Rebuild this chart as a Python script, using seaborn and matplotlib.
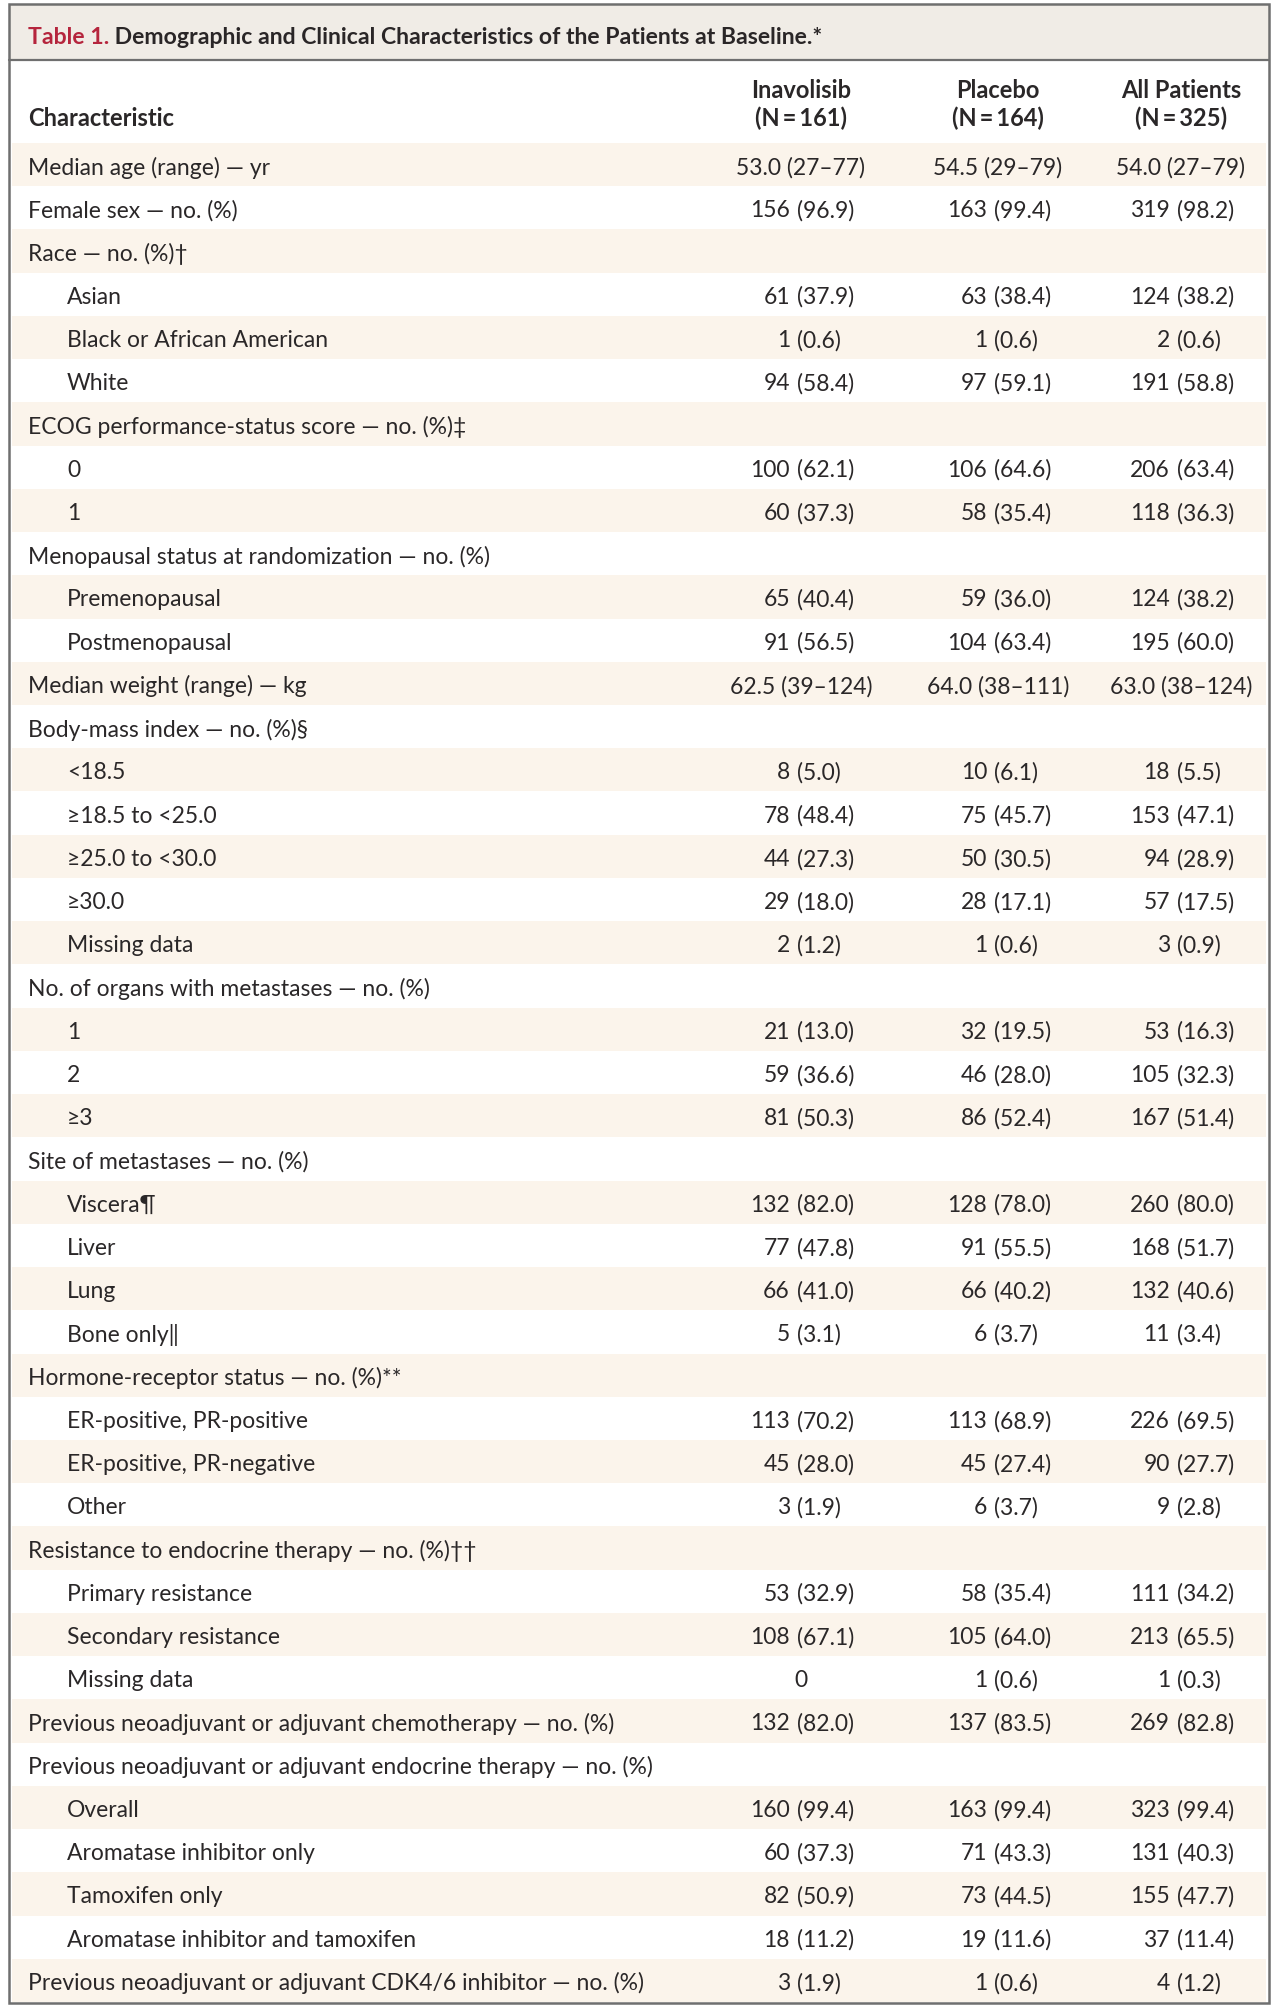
import numpy as np
import pandas as pd
import matplotlib
matplotlib.use("Agg")
import matplotlib.pyplot as plt
from matplotlib.patches import Rectangle
import seaborn as sns

# table content
characteristics = [
    "Median age (range) — yr", "Female sex — no. (%)", "Race — no. (%)†",
    "Asian", "Black or African American", "White",
    "ECOG performance-status score — no. (%)‡", "0", "1",
    "Menopausal status at randomization — no. (%)", "Premenopausal", "Postmenopausal",
    "Median weight (range) — kg", "Body-mass index — no. (%)§",
    "<18.5", "≥18.5 to <25.0", "≥25.0 to <30.0", "≥30.0", "Missing data",
    "No. of organs with metastases — no. (%)", "1", "2", "≥3",
    "Site of metastases — no. (%)", "Viscera¶", "Liver", "Lung", "Bone only‖",
    "Hormone-receptor status — no. (%)**", "ER-positive, PR-positive",
    "ER-positive, PR-negative", "Other",
    "Resistance to endocrine therapy — no. (%)††", "Primary resistance",
    "Secondary resistance", "Missing data",
    "Previous neoadjuvant or adjuvant chemotherapy — no. (%)",
    "Previous neoadjuvant or adjuvant endocrine therapy — no. (%)",
    "Overall", "Aromatase inhibitor only", "Tamoxifen only",
    "Aromatase inhibitor and tamoxifen",
    "Previous neoadjuvant or adjuvant CDK4/6 inhibitor — no. (%)",
]
indent = [0, 0, 0, 1, 1, 1, 0, 1, 1, 0, 1, 1, 0, 0, 1, 1, 1, 1, 1, 0, 1, 1, 1,
          0, 1, 1, 1, 1, 0, 1, 1, 1, 0, 1, 1, 1, 0, 0, 1, 1, 1, 1, 0]
inavolisib = [
    "53.0 (27–77)", "156 (96.9)", "", "61 (37.9)", "1 (0.6)", "94 (58.4)",
    "", "100 (62.1)", "60 (37.3)", "", "65 (40.4)", "91 (56.5)",
    "62.5 (39–124)", "", "8 (5.0)", "78 (48.4)", "44 (27.3)", "29 (18.0)", "2 (1.2)",
    "", "21 (13.0)", "59 (36.6)", "81 (50.3)",
    "", "132 (82.0)", "77 (47.8)", "66 (41.0)", "5 (3.1)",
    "", "113 (70.2)", "45 (28.0)", "3 (1.9)",
    "", "53 (32.9)", "108 (67.1)", "0",
    "132 (82.0)", "", "160 (99.4)", "60 (37.3)", "82 (50.9)", "18 (11.2)", "3 (1.9)",
]
placebo = [
    "54.5 (29–79)", "163 (99.4)", "", "63 (38.4)", "1 (0.6)", "97 (59.1)",
    "", "106 (64.6)", "58 (35.4)", "", "59 (36.0)", "104 (63.4)",
    "64.0 (38–111)", "", "10 (6.1)", "75 (45.7)", "50 (30.5)", "28 (17.1)", "1 (0.6)",
    "", "32 (19.5)", "46 (28.0)", "86 (52.4)",
    "", "128 (78.0)", "91 (55.5)", "66 (40.2)", "6 (3.7)",
    "", "113 (68.9)", "45 (27.4)", "6 (3.7)",
    "", "58 (35.4)", "105 (64.0)", "1 (0.6)",
    "137 (83.5)", "", "163 (99.4)", "71 (43.3)", "73 (44.5)", "19 (11.6)", "1 (0.6)",
]
all_patients = [
    "54.0 (27–79)", "319 (98.2)", "", "124 (38.2)", "2 (0.6)", "191 (58.8)",
    "", "206 (63.4)", "118 (36.3)", "", "124 (38.2)", "195 (60.0)",
    "63.0 (38–124)", "", "18 (5.5)", "153 (47.1)", "94 (28.9)", "57 (17.5)", "3 (0.9)",
    "", "53 (16.3)", "105 (32.3)", "167 (51.4)",
    "", "260 (80.0)", "168 (51.7)", "132 (40.6)", "11 (3.4)",
    "", "226 (69.5)", "90 (27.7)", "9 (2.8)",
    "", "111 (34.2)", "213 (65.5)", "1 (0.3)",
    "269 (82.8)", "", "323 (99.4)", "131 (40.3)", "155 (47.7)", "37 (11.4)", "4 (1.2)",
]
group_names = ["Inavolisib", "Placebo", "All Patients"]
group_sizes = ["(N\u2009=\u2009161)", "(N\u2009=\u2009164)", "(N\u2009=\u2009325)"]

df = pd.DataFrame({
    "characteristic": characteristics,
    "indent": indent,
    "Inavolisib": inavolisib,
    "Placebo": placebo,
    "All Patients": all_patients,
})
df["row"] = np.arange(len(df))
df["band"] = np.where(df["row"] % 2 == 0, "shade", "plain")
df["span"] = 1266

# layout (pixels)
W, H = 1280, 2015
row_top, row_bottom = 144, 2003
col_center = [801, 998, 1181]
text_col = "#2a2728"
fs = 16.5
fonts = ["Lato", "DejaVu Sans"]

sns.set_theme(style="white")
plt.rcParams["font.family"] = fonts

fig = plt.figure(figsize=(W / 100, H / 100), dpi=100)
fig.patch.set_facecolor("white")

# body with alternating row bands
body = fig.add_axes([12 / W, 1 - row_bottom / H, (1266 - 12) / W, (row_bottom - row_top) / H])
sns.barplot(data=df, x="span", y="row", hue="band", orient="h", dodge=False,
            palette={"shade": "#fdf5e9", "plain": "#ffffff"}, width=1.0,
            legend=False, ax=body, linewidth=0)
body.set_xlim(12, 1266)
body.set_ylim(len(df) - 0.5, -0.5)
body.axis("off")

for i, r in df.iterrows():
    x0 = 28 if r["indent"] == 0 else 67
    body.text(x0, i, r["characteristic"], fontsize=fs, color=text_col,
              ha="left", va="center_baseline")
    for cx, g in zip(col_center, group_names):
        v = r[g]
        if not v:
            continue
        if "–" in v or "(" not in v:
            body.text(cx, i, v, fontsize=fs, color=text_col, ha="center", va="center_baseline")
        else:
            # n (%) values line up on the opening parenthesis
            num, par = v.split(" ", 1)
            anchor = cx - 4
            body.text(anchor - 7, i, num, fontsize=fs, color=text_col, ha="right", va="center_baseline")
            body.text(anchor, i, par, fontsize=fs, color=text_col, ha="left", va="center_baseline")

# frame, title and header
top = fig.add_axes([0, 0, 1, 1], zorder=5)
top.set_xlim(0, W)
top.set_ylim(H, 0)
top.axis("off")
top.patch.set_alpha(0)
top.add_patch(Rectangle((9, 5), 1260, 56, facecolor="#f0ece6", edgecolor="none"))
top.plot([9, 1269], [61, 61], color="#6f6f6f", lw=1.6)
top.add_patch(Rectangle((9, 5), 1260, 1999, facecolor="none", edgecolor="#6f6f6f", lw=1.8))

t1 = top.text(28, 44, "Table 1.", fontsize=16.6, fontweight="bold", color="#b5253d",
              ha="left", va="baseline")
top.annotate(" Demographic and Clinical Characteristics of the Patients at Baseline.*",
             xy=(1, 0), xycoords=t1, fontsize=16.6, fontweight="bold", color="#2a2627",
             ha="left", va="bottom")

top.text(28, 126, "Characteristic", fontsize=17, fontweight="bold", color=text_col,
         ha="left", va="baseline")
for cx, g, n in zip(col_center, group_names, group_sizes):
    top.text(cx, 98, g, fontsize=17, fontweight="bold", color=text_col,
             ha="center", va="baseline")
    top.text(cx, 126, n, fontsize=17, fontweight="bold", color=text_col,
             ha="center", va="baseline")

fig.savefig("out.png", dpi=100)
plt.close(fig)
